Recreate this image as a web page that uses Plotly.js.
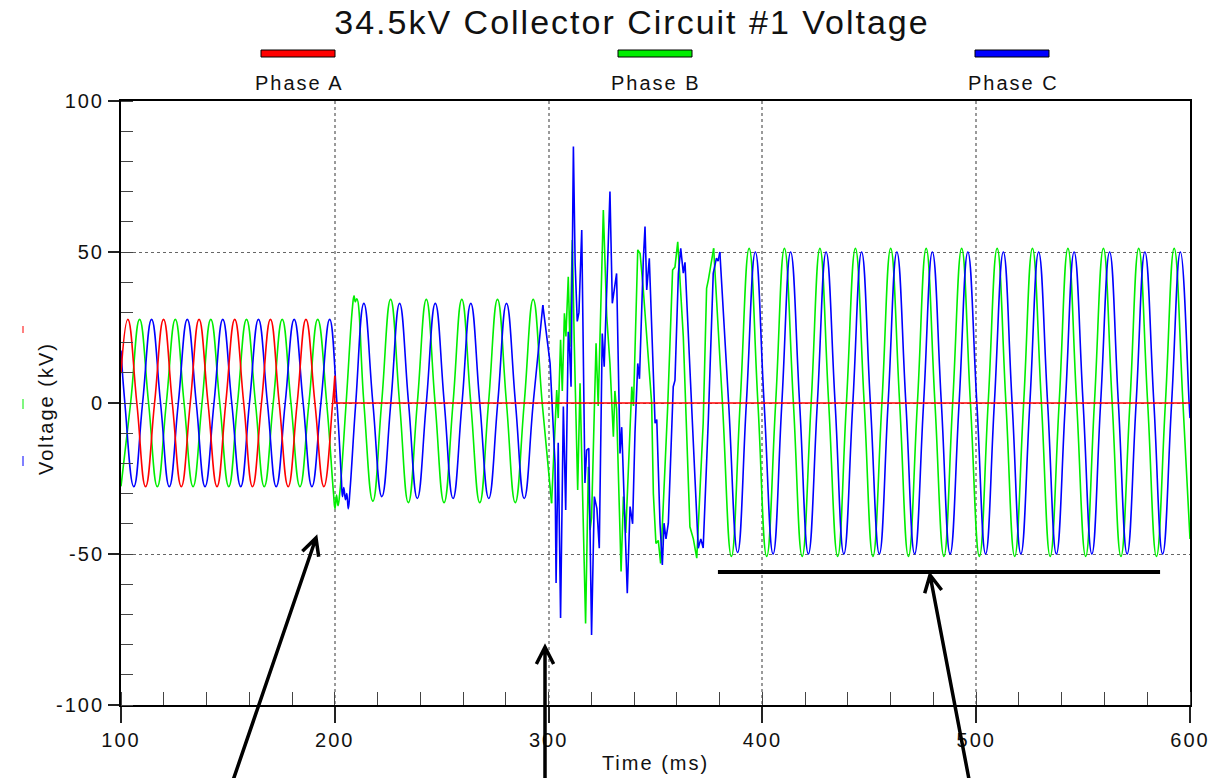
<!DOCTYPE html>
<html>
<head>
<meta charset="utf-8">
<script src="https://cdn.plot.ly/plotly-3.0.1.min.js"></script>
<style>
  html, body { margin: 0; padding: 0; background: #fff; }
  #chart { width: 1230px; height: 778px; }
  .gtitle { letter-spacing: 2px; }
  .xtick text, .ytick text { letter-spacing: 2px; }
  .xtitle { letter-spacing: 2px; }
  .annotation-text { letter-spacing: 2px; }
</style>
</head>
<body>
<div id="chart"></div>
<script>
// ---- series ----------------------------------------------------------
const phaseNames  = ['Phase A', 'Phase B', 'Phase C'];
const phaseColors = ['#ff0000', '#00ee00', '#0000ff'];

// axis tick labels (plain hyphen for negatives)
const timeTicks = [100, 200, 300, 400, 500, 600];
const timeTickText = ['100', '200', '300', '400', '500', '600'];
const kvTicks = [-100, -50, 0, 50, 100];
const kvTickText = ['-100', '-50', '0', '50', '100'];

// Phase A: healthy until the breaker opens at 200 ms, then dead
const phaseA_preTime = [100, 103.2, 107.4, 111.5, 115.7, 119.9, 124.0, 128.2, 132.4, 136.5,
  140.7, 144.9, 149.0, 153.2, 157.4, 161.5, 165.7, 169.9, 174.0, 178.2,
  182.4, 186.5, 190.7, 194.9, 199.0, 200];
const phaseA_preKV = [9.9, 27.7, 0, -27.7, 0, 27.7, 0, -27.7, 0, 27.7,
  0, -27.7, 0, 27.7, 0, -27.7, 0, 27.7, 0, -27.7,
  0, 27.7, 0, -27.7, 0, 9];
const phaseA_openTime = [200, 200, 600];
const phaseA_openKV = [9, 0, 0];

// Phase B
const phaseB_steadyTime = [100, 104.5, 108.7, 112.9, 117.0, 121.2, 125.4, 129.5, 133.7, 137.9,
  142.0, 146.2, 150.4, 154.5, 158.7, 162.9, 167.0, 171.2, 175.4, 179.5,
  183.7, 187.9, 192.0, 196.2, 199.3, 200.1, 200.8, 201.5, 202.3, 205.3,
  208.3, 209.0, 209.6, 210.3, 213.6, 217.8, 221.9, 226.1, 230.3, 234.4,
  238.6, 242.8, 246.9, 251.1, 255.3, 259.4, 263.6, 267.8, 271.9, 276.1,
  280.3, 284.4, 288.6, 292.8, 297.0, 301.4];
const phaseB_steadyKV = [-27.6, 0, 27.7, 0, -27.7, 0, 27.7, 0, -27.7, 0,
  27.7, 0, -27.7, 0, 27.7, 0, -27.7, 0, 27.7, 0,
  -27.7, 0, 27.7, 0, -29, -35, -30.5, -34, -30, 0,
  32, 35.5, 33.5, 34.5, 0, -32.5, 0, 34.3, 0, -33,
  0, 34.3, 0, -33, 0, 34.3, 0, -33, 0, 34.3,
  0, -33, 0, 34.3, 0, -33.2];
const phaseB_faultTime = [301.4, 303.8, 304.5, 305.6, 306.4, 307.4, 308.1, 309.2, 310.0, 311.1,
  312.0, 313.6, 314.7, 317.3, 318.6, 319.4, 320.1, 322.2, 323.2, 325.6,
  327.2, 328.7, 330.3, 331.0, 331.8, 333.9, 335.0, 336.1, 338.9, 339.7,
  341.7, 342.8, 344.3, 348.2, 349.0, 350.2, 351.3, 352.4, 354.5, 355.7,
  358.0, 359.1, 360.4, 363.0, 366.1, 367.7, 369.3, 372.3, 373.9, 374.7, 377.2];
const phaseB_faultKV = [-33.2, 4.3, -5, 20.9, 4, 29.7, 22, 41.8, 18.6, 54,
  20, -28.8, 6.5, -73, -21.1, -42, -38, 19.8, -1, 63.9,
  28.6, 13, -11.2, 4, -2, -55.8, -31, -43, 5.4, -1,
  50.7, 49.5, 37.4, -0.1, -30, -46.5, -45.5, -53.1, -20.3, -1.2,
  44, 45, 53.4, 22, -41, -45, -51.4, -6.7, 38, 40.7, 51.2];
const phaseB_postTime = [377.2, 381.3, 385.5, 389.6, 393.8, 397.9, 402.0, 406.2, 410.3, 414.5,
  418.6, 422.8, 426.9, 431.0, 435.2, 439.3, 443.5, 447.6, 451.7, 455.9,
  460.0, 464.2, 468.3, 472.5, 476.6, 480.7, 484.9, 489.0, 493.2, 497.3,
  501.5, 505.6, 509.8, 513.9, 518.0, 522.2, 526.3, 530.5, 534.6, 538.8,
  542.9, 547.0, 551.2, 555.3, 559.5, 563.6, 567.7, 571.9, 576.0, 580.2,
  584.3, 588.5, 592.6, 596.7, 600];
const phaseB_postKV = [51.2, 0, -50.8, 0, 51.2, 0, -50.8, 0, 51.2, 0,
  -50.8, 0, 51.2, 0, -50.8, 0, 51.2, 0, -50.8, 0,
  51.2, 0, -50.8, 0, 51.2, 0, -50.8, 0, 51.2, 0,
  -50.8, 0, 51.2, 0, -50.8, 0, 51.2, 0, -50.8, 0,
  51.2, 0, -50.8, 0, 51.2, 0, -50.8, 0, 51.2, 0,
  -50.8, 0, 51.2, 0, -45];

// Phase C
const phaseC_steadyTime = [100, 101.8, 106.0, 110.1, 114.3, 118.5, 122.6, 126.8, 131.0, 135.2,
  139.3, 143.5, 147.6, 151.8, 156.0, 160.1, 164.3, 168.5, 172.6, 176.8,
  181.0, 185.2, 189.3, 193.5, 197.6, 201.0, 203.0, 203.6, 204.2, 205.0,
  205.6, 206.3, 207.1, 209.8, 213.6, 217.8, 222.0, 226.2, 230.3, 234.5,
  238.6, 242.8, 247.0, 251.2, 255.3, 259.5, 263.6, 267.8, 272.0, 276.2,
  280.3, 284.5, 288.6, 292.8, 297.3];
const phaseC_steadyKV = [17.4, 0, -27.7, 0, 27.7, 0, -27.7, 0, 27.7, 0,
  -27.7, 0, 27.7, 0, -27.7, 0, 27.7, 0, -27.7, 0,
  27.7, 0, -27.7, 0, 27.7, 0, -24, -31, -28, -32,
  -30, -35, -29, 0, 33, 0, -31, 0, 33, 0,
  -31.6, 0, 33, 0, -31.6, 0, 33, 0, -31.6, 0,
  33, 0, -31.6, 0, 32.4];
const phaseC_faultTime = [297.3, 300.7, 303.0, 303.5, 304.5, 305.6, 306.9, 308.0, 309.2, 309.8,
  310.5, 311.6, 312.4, 313.4, 314.2, 315.5, 317.0, 317.8, 318.8, 320.1,
  321.4, 322.6, 323.7, 325.1, 326.0, 328.7, 329.8, 331.0, 331.8, 333.4,
  334.2, 336.8, 338.1, 339.3, 340.4, 341.7, 342.5, 344.3, 345.1, 345.9,
  347.1, 349.8, 350.6, 352.1, 353.2, 354.0, 354.9, 356.0, 358.3, 359.1,
  360.7, 361.8, 363.0, 363.8, 366.9, 368.5, 370.0, 371.2, 372.3, 374.7,
  377.0, 378.5, 379.3, 380.1];
const phaseC_faultKV = [32.4, 13.1, -20, -59.6, -13.2, -71.2, -1.2, -35.4, 23.6, 18,
  5.4, 84.9, 46.4, 27, 30, 57.3, -26.5, -15.6, -15, -76.8,
  -31, -35, -48.1, 23, 12, 70, 33, 40, 42.9, -16.7,
  -8, -63, -34.3, -40, -10, 13.1, 8, 47.4, 58.4, 37.4,
  47.9, -6.7, -5.5, -39.8, -53.6, -39.8, -45, -39.8, 5.4, 7.5,
  42.9, 51.2, 43, 46.6, -4.5, -25.5, -48.1, -45, -48, -5.6,
  42.9, 48, 47, 50];
const phaseC_postTime = [380.1, 384.2, 388.4, 392.5, 396.7, 400.8, 405.0, 409.1, 413.2, 417.4,
  421.5, 425.7, 429.8, 434.0, 438.1, 442.3, 446.4, 450.5, 454.7, 458.8,
  462.9, 467.1, 471.2, 475.4, 479.5, 483.7, 487.8, 492.0, 496.1, 500.3,
  504.4, 508.5, 512.7, 516.8, 520.9, 525.1, 529.2, 533.4, 537.5, 541.7,
  545.8, 550.0, 554.1, 558.2, 562.4, 566.5, 570.6, 574.8, 578.9, 583.1,
  587.2, 591.4, 595.5, 599.6, 600];
const phaseC_postKV = [50, 0, -49.5, 0, 50, 0, -50, 0, 50, 0,
  -50, 0, 50, 0, -50, 0, 50, 0, -50, 0,
  50, 0, -50, 0, 50, 0, -50, 0, 50, 0,
  -50, 0, 50, 0, -50, 0, 50, 0, -50, 0,
  50, 0, -50, 0, 50, 0, -50, 0, 50, 0,
  -50, 0, 50, 0, -5];

// post-fault steady-state marker level
const steadyMarkTime = [379.2, 586];
const steadyMarkKV = -56;

// ---- traces ----------------------------------------------------------
// sinusoidal stretches are drawn as splines, the fault burst point to point
function seg(x, y, color, shape, name) {
  return {
    x: x, y: y, type: 'scatter', mode: 'lines', name: name,
    line: { color: color, width: 1.6, shape: shape, smoothing: 1.3 },
    showlegend: false, hoverinfo: 'x+y+name'
  };
}
const data = [
  seg(phaseB_steadyTime, phaseB_steadyKV, phaseColors[1], 'spline', phaseNames[1]),
  seg(phaseB_faultTime,  phaseB_faultKV,  phaseColors[1], 'linear', phaseNames[1]),
  seg(phaseB_postTime,   phaseB_postKV,   phaseColors[1], 'spline', phaseNames[1]),
  seg(phaseC_steadyTime, phaseC_steadyKV, phaseColors[2], 'spline', phaseNames[2]),
  seg(phaseC_faultTime,  phaseC_faultKV,  phaseColors[2], 'linear', phaseNames[2]),
  seg(phaseC_postTime,   phaseC_postKV,   phaseColors[2], 'spline', phaseNames[2]),
  seg(phaseA_preTime,    phaseA_preKV,    phaseColors[0], 'spline', phaseNames[0]),
  seg(phaseA_openTime,   phaseA_openKV,   phaseColors[0], 'linear', phaseNames[0])
];

// ---- page geometry (pixels -> paper fractions) -----------------------
const W = 1230, H = 778;
const PLOT = { left: 121, right: 1190, top: 101, bottom: 705 };
const fx = p => (p - PLOT.left) / (PLOT.right - PLOT.left);
const fy = p => (PLOT.bottom - p) / (PLOT.bottom - PLOT.top);

const FONT = '"Liberation Sans", Arial, sans-serif';

const shapes = [];
const annotations = [];

// legend swatches above the plot
const legendCenters = [298, 655, 1012];
phaseNames.forEach((name, i) => {
  const c = legendCenters[i];
  shapes.push({
    type: 'rect', xref: 'paper', yref: 'paper',
    x0: fx(c - 37), x1: fx(c + 37), y0: fy(57), y1: fy(50),
    fillcolor: phaseColors[i], line: { color: '#000', width: 1 }
  });
  annotations.push({
    xref: 'paper', yref: 'paper', x: fx(c + 1), y: fy(83),
    xanchor: 'center', yanchor: 'middle', showarrow: false,
    text: name, font: { family: FONT, size: 20, color: '#111' }
  });
});

// vertical axis title
annotations.push({
  xref: 'paper', yref: 'paper', x: fx(46), y: fy(409),
  xanchor: 'center', yanchor: 'middle', textangle: -90, showarrow: false,
  text: 'Voltage (kV)', font: { family: FONT, size: 20, color: '#111' }
});

// small colour keys beside the y title
[[326, 333], [399, 409], [456, 466]].forEach((r, i) => {
  shapes.push({
    type: 'line', xref: 'paper', yref: 'paper',
    x0: fx(23), x1: fx(23), y0: fy(r[0]), y1: fy(r[1]),
    line: { color: phaseColors[i], width: 1 }
  });
});

// steady-state bar
shapes.push({
  type: 'line', xref: 'x', yref: 'y',
  x0: steadyMarkTime[0], x1: steadyMarkTime[1], y0: steadyMarkKV, y1: steadyMarkKV,
  line: { color: '#000', width: 4 }
});

// call-out arrows (tail below the frame, open head at the tip)
function arrowPath(tail, tip) {
  const dx = tail[0] - tip[0], dy = tail[1] - tip[1];
  const len = Math.hypot(dx, dy), ux = dx / len, uy = dy / len;
  const a = 27 * Math.PI / 180, L = 19;
  const rot = s => [tip[0] + L * (ux * Math.cos(s * a) - uy * Math.sin(s * a)),
                    tip[1] + L * (ux * Math.sin(s * a) + uy * Math.cos(s * a))];
  const l = rot(1), r = rot(-1);
  const P = p => fx(p[0]) + ',' + fy(p[1]);
  return 'M' + P(tail) + 'L' + P(tip) + 'M' + P(l) + 'L' + P(tip) + 'L' + P(r);
}
[[[228, 795], [316, 538]], [[545, 795], [545, 647]], [[972, 795], [930, 575]]].forEach(a => {
  shapes.push({
    type: 'path', xref: 'paper', yref: 'paper', path: arrowPath(a[0], a[1]),
    line: { color: '#000', width: 3.5 }
  });
});

const layout = {
  width: W, height: H,
  margin: { l: PLOT.left, r: W - PLOT.right, t: PLOT.top, b: H - PLOT.bottom },
  paper_bgcolor: '#fff', plot_bgcolor: '#fff',
  showlegend: false,
  font: { family: FONT, color: '#111' },
  title: {
    text: '34.5kV Collector Circuit #1 Voltage',
    x: 632 / W, xanchor: 'center', y: 1 - 22 / H, yanchor: 'middle',
    font: { family: FONT, size: 34, color: '#111' }
  },
  xaxis: {
    range: [100, 600], tickmode: 'array', tickvals: timeTicks, ticktext: timeTickText,
    ticks: 'outside', ticklen: 16, tickwidth: 1.5, tickcolor: '#222',
    showline: true, linecolor: '#000', linewidth: 2, mirror: true,
    showgrid: true, gridcolor: '#9a9a9a', gridwidth: 1.5, griddash: 'dot',
    zeroline: false,
    minor: { ticks: 'inside', tick0: 100, dtick: 20, ticklen: 13, tickwidth: 1, tickcolor: '#444', showgrid: false },
    tickfont: { family: FONT, size: 20, color: '#111' },
    title: { text: 'Time (ms)', font: { family: FONT, size: 20, color: '#111' }, standoff: 6 }
  },
  yaxis: {
    range: [-100, 100], tickmode: 'array', tickvals: kvTicks, ticktext: kvTickText,
    ticks: 'outside', ticklen: 11, tickwidth: 1.5, tickcolor: '#222',
    showline: true, linecolor: '#000', linewidth: 2, mirror: true,
    showgrid: true, gridcolor: '#666', gridwidth: 1, griddash: 'dot',
    zeroline: false,
    minor: { ticks: 'inside', tick0: -100, dtick: 10, ticklen: 12, tickwidth: 1, tickcolor: '#444', showgrid: false },
    tickfont: { family: FONT, size: 20, color: '#111' }
  },
  shapes: shapes,
  annotations: annotations
};

Plotly.newPlot('chart', data, layout, { displayModeBar: false, responsive: false });
</script>
</body>
</html>
